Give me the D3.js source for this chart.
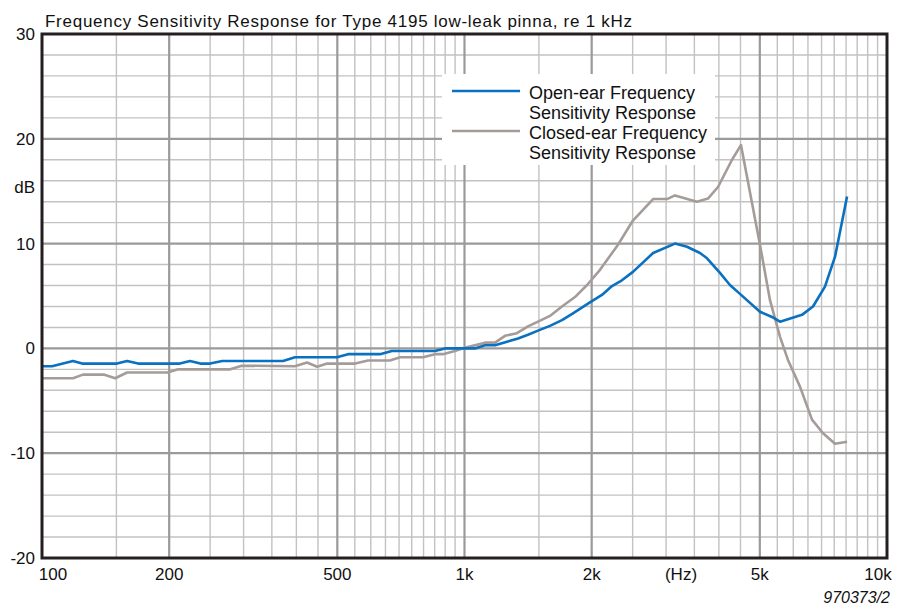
<!DOCTYPE html>
<html>
<head>
<meta charset="utf-8">
<script src="https://cdn.jsdelivr.net/npm/d3@7"></script>
<style>
  html, body { margin: 0; padding: 0; background: #fff; }
  svg { display: block; font-family: "Liberation Sans", Arial, sans-serif; }
</style>
</head>
<body>
<svg id="chart" width="898" height="605"></svg>
<script>
// ---------- data ----------
const titleText = "Frequency Sensitivity Response for Type 4195 low-leak pinna, re 1 kHz";
const seriesNames = ["Open-ear Frequency\nSensitivity Response", "Closed-ear Frequency\nSensitivity Response"];

const openFreq = [100, 105.6, 118.4, 124.4, 150.5, 159, 168.8, 212, 224, 237, 250, 267, 372, 397, 499, 530, 631, 673, 851, 899, 1059, 1118, 1181, 1339, 1413, 1493, 1593, 1701, 1806, 1981, 2115, 2234, 2358, 2504, 2795, 3149, 3363, 3609, 3750, 4024, 4249, 4487, 5004, 5342, 5582, 6293, 6681, 7131, 7534, 8044];
const openDb   = [-1.7, -1.7, -1.2, -1.45, -1.45, -1.2, -1.45, -1.45, -1.2, -1.45, -1.45, -1.2, -1.2, -0.85, -0.85, -0.55, -0.55, -0.25, -0.25, 0, 0, 0.3, 0.3, 0.95, 1.3, 1.7, 2.15, 2.7, 3.35, 4.4, 5.1, 5.95, 6.5, 7.3, 9.1, 10.0, 9.7, 9.1, 8.6, 7.2, 6.05, 5.2, 3.5, 3.0, 2.55, 3.2, 4.0, 5.9, 8.75, 14.5];

const closedFreq = [100, 118.4, 125, 140, 149, 159, 198, 210, 279, 297, 397, 424, 448, 473, 551, 591, 666, 704, 798, 851, 889, 949, 1001, 1118, 1181, 1247, 1331, 1413, 1493, 1593, 1701, 1826, 1950, 2093, 2309, 2504, 2795, 3015, 3149, 3549, 3769, 3981, 4297, 4512, 5004, 5285, 5582, 5829, 6223, 6645, 7056, 7534, 8044];
const closedDb   = [-2.85, -2.85, -2.5, -2.5, -2.85, -2.3, -2.3, -2.0, -2.0, -1.65, -1.7, -1.35, -1.75, -1.45, -1.45, -1.15, -1.15, -0.85, -0.85, -0.55, -0.55, -0.25, 0.05, 0.55, 0.55, 1.2, 1.45, 2.1, 2.55, 3.1, 4.0, 4.9, 6.05, 7.5, 9.9, 12.2, 14.25, 14.25, 14.6, 14.0, 14.3, 15.4, 18.0, 19.4, 9.9, 4.6, 1.1, -1.1, -3.65, -6.8, -8.1, -9.1, -8.9];

const xTickValues = [100, 200, 500, 1000, 2000, 5000, 10000];
const xTickLabels = ["100", "200", "500", "1k", "2k", "5k", "10k"];
const xMinorValues = [150, 250, 300, 350, 400, 450, 550, 600, 650, 700, 750, 800, 850, 900, 950, 1500, 2500, 3000, 3500, 4000, 4500, 5500, 6000, 6500, 7000, 7500, 8000, 8500, 9000, 9500];
const yTickValues = [30, 20, 10, 0, -10, -20];
const yMinorValues = [28, 26, 24, 22, 18, 16, 14, 12, 8, 6, 4, 2, -2, -4, -6, -8, -12, -14, -16, -18];
const yUnit = "dB";
const xUnit = "(Hz)";
const figureCode = "970373/2";

// ---------- layout ----------
const L = 42, R = 887, T = 34, B = 558;
const colors = { open: "#0a70c0", closed: "#a59c99", major: "#9a9a9a", minor: "#c2c2c2", border: "#231f20" };

const svg = d3.select("#chart");
const x = d3.scaleLog().domain([100, 10000]).range([L, R]);
const y = d3.scaleLinear().domain([-20, 30]).range([B, T]);

const g = svg.append("g");

// minor grid
g.selectAll(".vminor").data(xMinorValues).join("line")
  .attr("x1", d => x(d)).attr("x2", d => x(d)).attr("y1", T).attr("y2", B)
  .attr("stroke", colors.minor).attr("stroke-width", 1.4);
g.selectAll(".hminor").data(yMinorValues).join("line")
  .attr("x1", L).attr("x2", R).attr("y1", d => y(d)).attr("y2", d => y(d))
  .attr("stroke", colors.minor).attr("stroke-width", 1.4);
// major grid
g.selectAll(".vmajor").data(xTickValues.slice(1, -1)).join("line")
  .attr("x1", d => x(d)).attr("x2", d => x(d)).attr("y1", T).attr("y2", B)
  .attr("stroke", colors.major).attr("stroke-width", 2.2);
g.selectAll(".hmajor").data(yTickValues.slice(1, -1)).join("line")
  .attr("x1", L).attr("x2", R).attr("y1", d => y(d)).attr("y2", d => y(d))
  .attr("stroke", colors.major).attr("stroke-width", 2.2);

// legend background
const leg = svg.append("g");
leg.append("rect").attr("x", 442).attr("y", 74).attr("width", 273).attr("height", 91).attr("fill", "#fff");
const legItems = [
  { name: seriesNames[0], color: colors.open, y: 91 },
  { name: seriesNames[1], color: colors.closed, y: 131 }
];
legItems.forEach(it => {
  leg.append("line").attr("x1", 452).attr("x2", 520).attr("y1", it.y).attr("y2", it.y)
    .attr("stroke", it.color).attr("stroke-width", 2.5);
  const lines = it.name.split("\n");
  lines.forEach((t, i) => {
    leg.append("text").attr("x", 529).attr("y", it.y + 8 + i * 19.5)
      .attr("font-size", 18).attr("fill", "#111").text(t);
  });
});

// curves
const line = d3.line().x(d => x(d[0])).y(d => y(d[1]));
svg.append("path").datum(d3.zip(closedFreq, closedDb)).attr("d", line)
  .attr("fill", "none").attr("stroke", colors.closed).attr("stroke-width", 2.6).attr("stroke-linejoin", "round");
svg.append("path").datum(d3.zip(openFreq, openDb)).attr("d", line)
  .attr("fill", "none").attr("stroke", colors.open).attr("stroke-width", 2.6).attr("stroke-linejoin", "round");

// border
svg.append("rect").attr("x", L).attr("y", T).attr("width", R - L).attr("height", B - T)
  .attr("fill", "none").attr("stroke", colors.border).attr("stroke-width", 3);

// y labels
svg.selectAll(".ylab").data(yTickValues).join("text")
  .attr("x", 35).attr("y", d => y(d) + 6).attr("text-anchor", "end")
  .attr("font-size", 17).attr("fill", "#111").text(d => d);
svg.append("text").attr("x", 35).attr("y", 193).attr("text-anchor", "end")
  .attr("font-size", 17).attr("fill", "#111").text(yUnit);

// x labels
svg.selectAll(".xlab").data(xTickValues).join("text")
  .attr("x", (d, i) => x(d) + (i === 0 ? 11 : i === xTickValues.length - 1 ? -9 : 0))
  .attr("y", 580).attr("text-anchor", "middle")
  .attr("font-size", 17).attr("fill", "#111").text((d, i) => xTickLabels[i]);
svg.append("text").attr("x", 681).attr("y", 580).attr("text-anchor", "middle")
  .attr("font-size", 17).attr("fill", "#111").text(xUnit);

// title
svg.append("text").attr("x", 45).attr("y", 27).attr("font-size", 17)
  .attr("textLength", 587).attr("lengthAdjust", "spacing")
  .attr("fill", "#111").text(titleText);

// figure code
svg.append("text").attr("x", 890).attr("y", 603).attr("text-anchor", "end")
  .attr("font-size", 16).attr("font-style", "italic").attr("fill", "#111").text(figureCode);
</script>
</body>
</html>
